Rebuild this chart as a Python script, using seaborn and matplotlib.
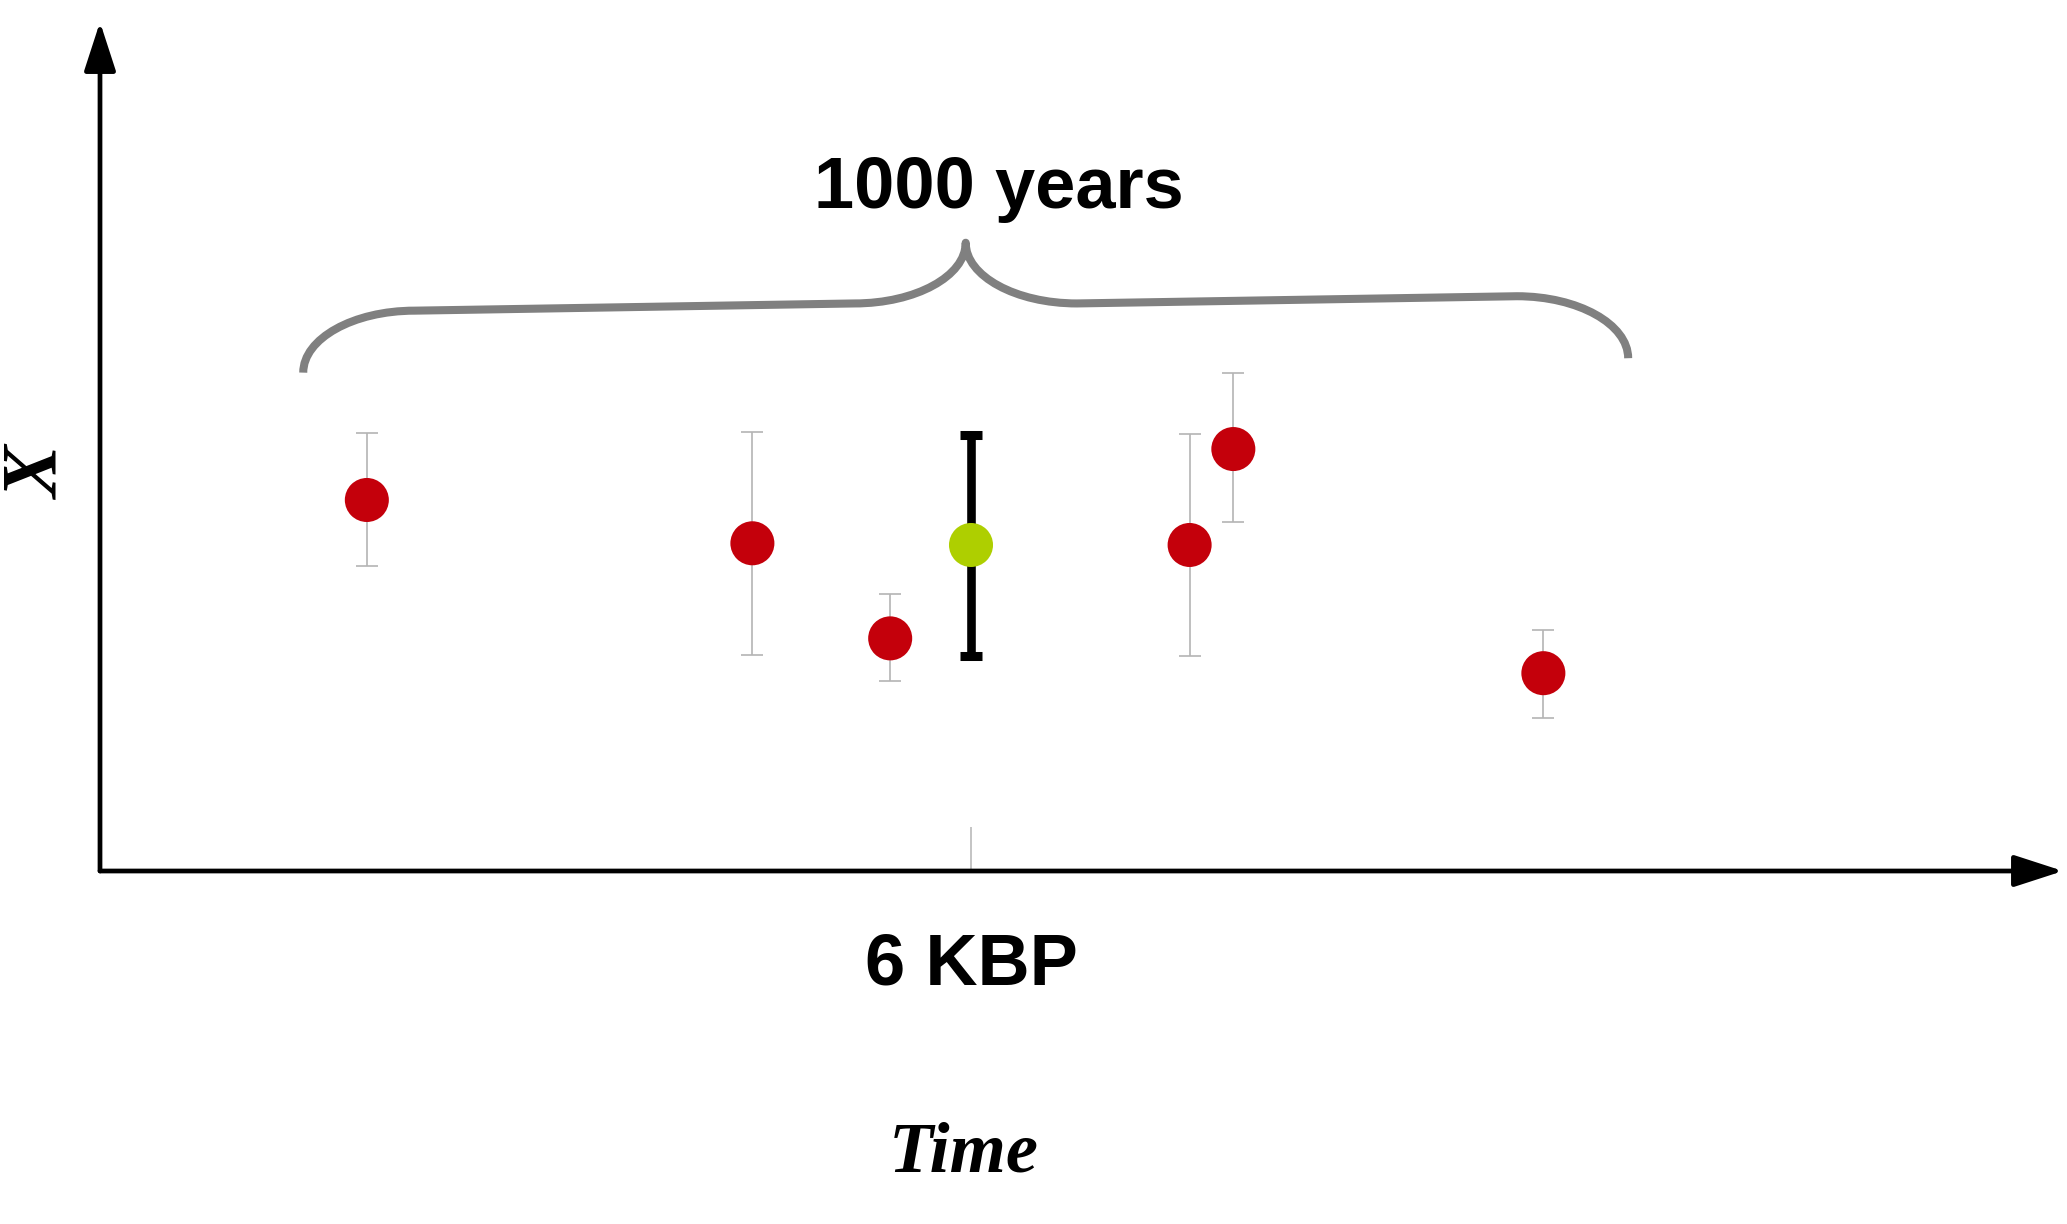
import numpy as np
import matplotlib
matplotlib.use("Agg")
import matplotlib.pyplot as plt
from matplotlib.path import Path
from matplotlib.patches import PathPatch
import pandas as pd
import seaborn as sns

# data: years relative to 6 KBP, proxy value X with asymmetric error
years = [-456, -165, -61, 0, 165, 198, 432]
x_val = [4.37, 3.86, 2.74, 3.84, 3.84, 4.97, 2.33]
err_lo = [0.78, 1.32, 0.50, 1.31, 1.31, 0.86, 0.53]
err_hi = [0.79, 1.31, 0.52, 1.30, 1.31, 0.90, 0.51]
kind = ["record", "record", "record", "target", "record", "record", "record"]

tick_pos = [0]
tick_lab = ["6 KBP"]
window_label = "1000 years"

df = pd.DataFrame({"year": years, "X": x_val, "lo": err_lo, "hi": err_hi, "kind": kind})

sns.set_theme(style="white")
plt.rcParams["font.family"] = ["Liberation Sans", "DejaVu Sans"]

fig = plt.figure(figsize=(20.67, 12.24), dpi=100)
ax = fig.add_axes([100 / 2067, 353 / 1224, 1963 / 2067, 849 / 1224])
ax.set_xlim(-657.4, 824.2)
ax.set_ylim(0, 10)

# error bars
rec = df[df["kind"] == "record"]
tgt = df[df["kind"] == "target"]
ax.errorbar(rec["year"], rec["X"], yerr=[rec["lo"], rec["hi"]], fmt="none",
            ecolor="#b4b4b4", elinewidth=1.2, capsize=7.9, capthick=1.2, zorder=2)
ax.errorbar(tgt["year"], tgt["X"], yerr=[tgt["lo"], tgt["hi"]], fmt="none",
            ecolor="black", elinewidth=6.2, capsize=8.2, capthick=6.5, zorder=2)

sns.scatterplot(data=df, x="year", y="X", hue="kind",
                palette={"record": "#c4000b", "target": "#aecf00"},
                s=1005, linewidth=0, legend=False, ax=ax, zorder=3)

# brace over the 1000 year window
def brace(ax, xl, xr, yl, yr, rise, tip, rx, k=0.55):
    xm = (xl + xr) / 2
    ym = (yl + yr) / 2 + rise
    verts = [
        (xl, yl), (xl, yl + k * rise), (xl + (1 - k) * rx, yl + rise), (xl + rx, yl + rise),
        (xm - rx, ym),
        (xm - (1 - k) * rx, ym), (xm, ym + (1 - k) * tip), (xm, ym + tip),
        (xm, ym + (1 - k) * tip), (xm + (1 - k) * rx, ym), (xm + rx, ym),
        (xr - rx, yr + rise),
        (xr - (1 - k) * rx, yr + rise), (xr, yr + k * rise), (xr, yr),
    ]
    codes = [Path.MOVETO] + [Path.CURVE4] * 3 + [Path.LINETO] + [Path.CURVE4] * 3 \
        + [Path.CURVE4] * 3 + [Path.LINETO] + [Path.CURVE4] * 3
    ax.add_patch(PathPatch(Path(verts, codes), fill=False, edgecolor="#808080",
                           lw=5.8, capstyle="butt", joinstyle="round", zorder=2))

brace(ax, -504, 496, 5.87, 6.04, 0.73, 0.715, 84)
ax.text(21, 7.81, window_label, ha="center", va="baseline", fontsize=52,
        fontweight="bold", color="black")

# axes drawn as arrows
for sp in ax.spines.values():
    sp.set_visible(False)
arrow = dict(arrowstyle="-|>,head_length=1.51,head_width=0.49", lw=3.4, color="black",
             shrinkA=0, shrinkB=0, mutation_scale=20)
ax.annotate("", xy=(1, 0), xytext=(0, 0), xycoords="axes fraction", arrowprops=arrow,
            annotation_clip=False)
ax.annotate("", xy=(0, 1), xytext=(0, 0), xycoords="axes fraction", arrowprops=arrow,
            annotation_clip=False)

ax.set_yticks([])
ax.set_xticks(tick_pos)
ax.set_xticklabels(tick_lab, fontsize=52, fontweight="bold", va="baseline", color="black")
ax.tick_params(axis="x", direction="in", length=31.7, width=1.1, color="#b4b4b4",
               pad=82, bottom=True)

ax.set_xlabel("Time", family=["Liberation Serif"], fontsize=52, fontweight="bold",
              style="italic", va="baseline", color="black")
ax.xaxis.set_label_coords(0.44, -0.3545)
ax.set_ylabel("X", family=["Liberation Serif"], fontsize=57, fontweight="bold",
              style="italic", va="baseline", color="black")
ax.yaxis.set_label_coords(-0.0215, 0.468)

fig.savefig("out.png", dpi=100)
